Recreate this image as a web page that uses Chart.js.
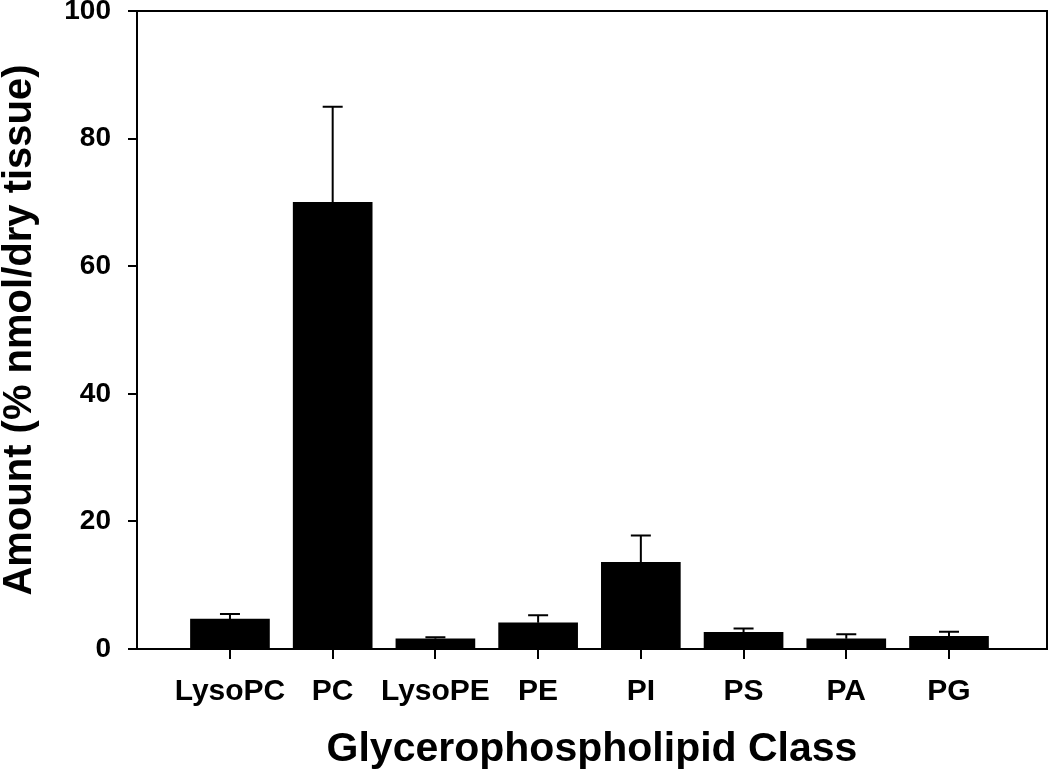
<!DOCTYPE html>
<html>
<head>
<meta charset="utf-8">
<script src="https://cdn.jsdelivr.net/npm/chart.js@4"></script>
<style>
    body { margin: 0; background: #fff; }
    #wrap { width: 1050px; height: 778px; }
</style>
</head>
<body>
<div id="wrap"><canvas id="lipidChart" width="1050" height="778"></canvas></div>
<script>
// Glycerophospholipid class amounts (% nmol/dry tissue), mean + upper error
const categories = ['LysoPC', 'PC', 'LysoPE', 'PE', 'PI', 'PS', 'PA', 'PG'];
const means = [4.7, 70.0, 1.6, 4.1, 13.6, 2.6, 1.6, 2.0];
const errors = [0.8, 15.0, 0.25, 1.2, 4.2, 0.6, 0.7, 0.7];
const yTicks = [0, 20, 40, 60, 80, 100];

const FONT = "'Liberation Sans', Arial, Helvetica, sans-serif";

// upward error bars with a cap
const errorBars = {
    id: 'errorBars',
    afterDatasetsDraw(chart) {
        const { ctx, scales: { x, y } } = chart;
        ctx.save();
        ctx.strokeStyle = '#000';
        ctx.lineWidth = 2;
        means.forEach((m, i) => {
            const px = x.getPixelForValue(i);
            const y0 = y.getPixelForValue(m);
            const y1 = y.getPixelForValue(m + errors[i]);
            ctx.beginPath();
            ctx.moveTo(px, y0);
            ctx.lineTo(px, y1);
            ctx.moveTo(px - 10, y1);
            ctx.lineTo(px + 10, y1);
            ctx.stroke();
        });
        ctx.restore();
    }
};

// top and right edges of the frame
const frame = {
    id: 'frame',
    afterDraw(chart) {
        const { ctx, chartArea: a } = chart;
        ctx.save();
        ctx.strokeStyle = '#000';
        ctx.lineWidth = 2;
        ctx.beginPath();
        ctx.moveTo(a.left, a.top);
        ctx.lineTo(a.right, a.top);
        ctx.lineTo(a.right, a.bottom);
        ctx.stroke();
        ctx.restore();
    }
};

new Chart(document.getElementById('lipidChart'), {
    type: 'bar',
    data: {
        datasets: [{
            data: means.map((v, i) => ({ x: i, y: v })),
            backgroundColor: '#000',
            borderWidth: 0,
            barThickness: 79
        }]
    },
    options: {
        responsive: false,
        animation: false,
        layout: { padding: { top: 11, right: 3, left: 0, bottom: 0 } },
        plugins: {
            legend: { display: false },
            tooltip: { enabled: false }
        },
        scales: {
            x: {
                type: 'linear',
                offset: false,
                min: -0.905,
                max: 7.954,
                afterBuildTicks: (scale) => {
                    scale.ticks = categories.map((c, i) => ({ value: i }));
                },
                afterFit: (scale) => {
                    scale.height = 129;
                    scale.paddingLeft = 0;
                    scale.paddingRight = 0;
                },
                ticks: {
                    color: '#000',
                    padding: 15,
                    maxRotation: 0,
                    autoSkip: false,
                    font: { family: FONT, size: 30, weight: 'bold' },
                    callback: (v) => categories[v] ?? ''
                },
                grid: {
                    offset: false,
                    drawOnChartArea: false,
                    drawTicks: true,
                    tickLength: 10,
                    color: '#000',
                    lineWidth: 2
                },
                border: { display: true, color: '#000', width: 2 },
                title: {
                    display: true,
                    text: 'Glycerophospholipid Class',
                    color: '#000',
                    font: { family: FONT, size: 41, weight: 'bold', lineHeight: 1 },
                    padding: { top: 0, bottom: 8 }
                }
            },
            y: {
                min: 0,
                max: 100,
                afterBuildTicks: (scale) => {
                    scale.ticks = yTicks.map(v => ({ value: v }));
                },
                afterFit: (scale) => {
                    scale.width = 137;
                    scale.paddingTop = 0;
                    scale.paddingBottom = 0;
                },
                ticks: {
                    color: '#000',
                    padding: 17,
                    font: { family: FONT, size: 28, weight: 'bold' }
                },
                grid: {
                    drawOnChartArea: false,
                    drawTicks: true,
                    tickLength: 9,
                    color: '#000',
                    lineWidth: 2
                },
                border: { display: true, color: '#000', width: 2 },
                title: {
                    display: true,
                    text: 'Amount (% nmol/dry tissue)',
                    color: '#000',
                    font: { family: FONT, size: 40, weight: 'bold', lineHeight: 1 },
                    padding: { top: 0, bottom: 0 }
                }
            }
        }
    },
    plugins: [errorBars, frame]
});
</script>
</body>
</html>
